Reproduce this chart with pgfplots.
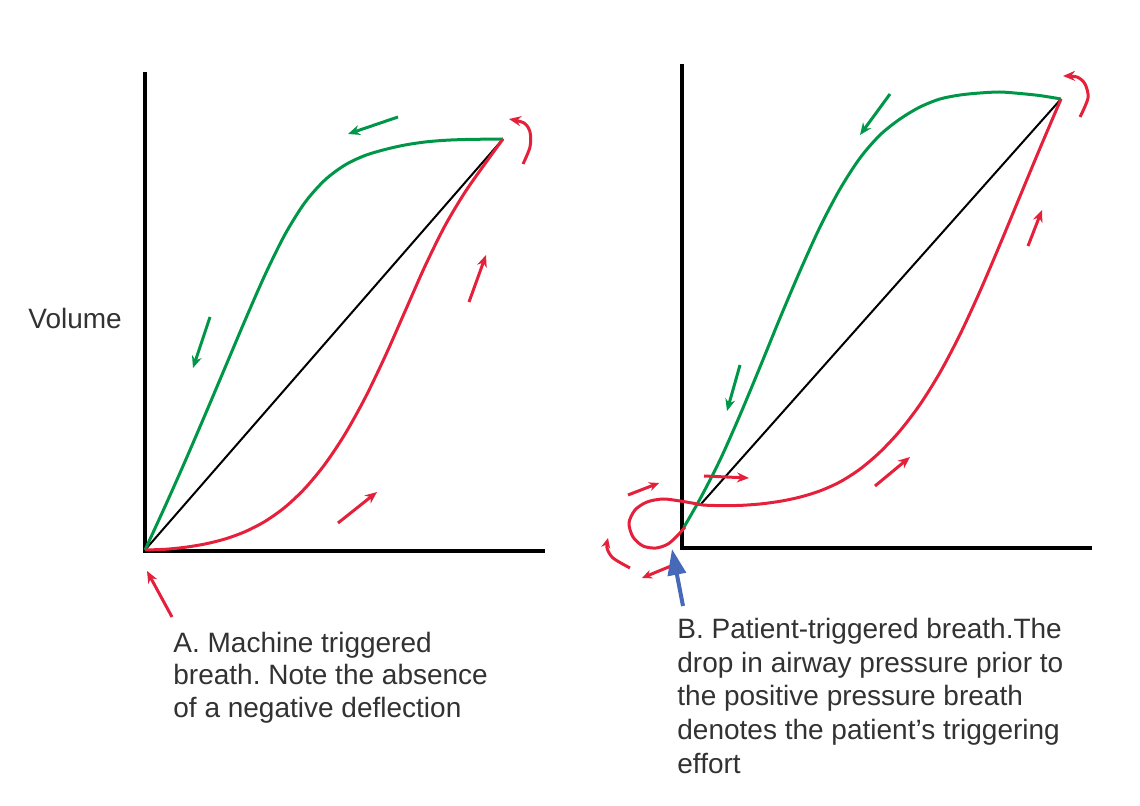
\documentclass[border=0pt]{standalone}
\usepackage{pgfplots}
\pgfplotsset{compat=1.18}
\usepackage{fontspec}
\setmainfont{Liberation Sans}
\usetikzlibrary{arrows.meta}
\definecolor{lgreen}{RGB}{0,150,72}
\definecolor{lred}{RGB}{228,32,58}
\definecolor{lblue}{RGB}{70,105,185}
\definecolor{txt}{RGB}{50,50,50}
\frenchspacing
\begin{document}
\begin{tikzpicture}
\begin{axis}[width=570pt,height=403pt,scale only axis,
  xmin=0,xmax=1140,ymin=0,ymax=806,y dir=reverse,
  hide axis,clip=false]
\path (axis cs:0,0) rectangle (axis cs:1140,806);
% ---------- axes (panel A, panel B)
\addplot[black,line width=2.3pt,line join=miter] coordinates {(145,72)(145,551)(545,551)};
\addplot[black,line width=2.3pt,line join=miter] coordinates {(682,64)(682,548)(1092,548)};
% ---------- panel A
\addplot[black,line width=1pt] coordinates {(145,550)(503,139)};
\addplot[lgreen,line width=1.5pt,smooth] coordinates {
(145,550)(165,506.5)(185,461.5)(205,415)(225,367.7)(245,320.4)(265,274.9)(285,234.4)(305,202.4)(325,179.9)(345,165)(365,155.5)(385,149.5)(405,145)(425,142)(445,140.3)(465,139.5)(485,139.2)(503,139)};
\addplot[lred,line width=1.5pt,smooth] coordinates {
(145,550)(165,549.3)(185,547.3)(205,544)(225,539)(245,531.7)(265,521.4)(285,507.2)(305,488.3)(325,464.1)(345,434.1)(365,398.1)(385,356.6)(405,311.4)(425,266.2)(445,225.7)(465,192.2)(485,163.7)(503,139)};
% arrows panel A
\addplot[lgreen,line width=1.5pt,-{Stealth[length=6pt,width=5pt]}] coordinates {(398,117)(348,134)};
\addplot[lgreen,line width=1.5pt,-{Stealth[length=6pt,width=5pt]}] coordinates {(210,317)(193,368)};
\addplot[lred,line width=1.5pt,-{Stealth[length=6pt,width=5pt]}] coordinates {(469,302)(486,255)};
\addplot[lred,line width=1.5pt,-{Stealth[length=6pt,width=5pt]}] coordinates {(338,523)(377,492)};
\addplot[lred,line width=1.5pt,smooth,-{Stealth[length=6pt,width=5pt]}] coordinates {(523,164)(530,147)(530,132)(524,123)(509,119)};
\addplot[lred,line width=1.5pt,-{Stealth[length=6pt,width=5pt]}] coordinates {(172,617)(147,571)};
% ---------- panel B
\addplot[black,line width=1pt] coordinates {(701,504)(1061,99)};
\addplot[lgreen,line width=1.5pt,smooth] coordinates {
(684,527)(700,499)(720,460)(740,415)(760,367)(780,318)(800,271)(820,227)(840,189)(860,158)(880,135)(900,119)(920,107)(940,99)(960,95)(980,93)(1000,92)(1020,93.5)(1040,95.6)(1061,99)};
\addplot[lred,line width=1.5pt,smooth] coordinates {
(685,527)(678,535)(668,544)(656,548)(643,546)(633,537)(629,523)(635,510)(647,502)(663,499)(680,501)(692,503)(703,505)(720,505.6)(740,505.4)(760,504)(780,501.3)(800,497.1)(820,490.9)(840,481.9)(860,469.1)(880,452.1)(900,430.8)(920,404.5)(940,372.5)(960,334.5)(980,291.2)(1000,244.4)(1020,196.2)(1040,148.2)(1061,99)};
% arrows panel B
\addplot[lgreen,line width=1.5pt,-{Stealth[length=6pt,width=5pt]}] coordinates {(890,94)(860,135)};
\addplot[lgreen,line width=1.5pt,-{Stealth[length=6pt,width=5pt]}] coordinates {(740,365)(727,411)};
\addplot[lred,line width=1.5pt,-{Stealth[length=6pt,width=5pt]}] coordinates {(1028,246)(1042,210)};
\addplot[lred,line width=1.5pt,-{Stealth[length=6pt,width=5pt]}] coordinates {(875,486)(910,457)};
\addplot[lred,line width=1.5pt,-{Stealth[length=6pt,width=5pt]}] coordinates {(704,476)(749,478)};
\addplot[lred,line width=1.5pt,smooth,-{Stealth[length=6pt,width=5pt]}] coordinates {(1080,117)(1088,98)(1085,84)(1077,77)(1063,76)};
\addplot[lred,line width=1.5pt,-{Stealth[length=5pt,width=4.5pt]}] coordinates {(628,495)(659,483)};
\addplot[lred,line width=1.5pt,smooth,-{Stealth[length=5pt,width=4.5pt]}] coordinates {(630,568)(613,558)(607,548)(608,538)};
\addplot[lred,line width=1.5pt,-{Stealth[length=5pt,width=4.5pt]}] coordinates {(671,566)(642,578)};
\addplot[lblue,line width=2pt,-{Triangle[length=13pt,width=9pt]}] coordinates {(683,606)(672,549)};
% ---------- texts
\node[anchor=base west,text=txt,font=\fontsize{14}{16}\selectfont,inner sep=0pt] at (axis cs:28,329) {Volume};
\node[anchor=base west,text=txt,font=\fontsize{14}{16}\selectfont,inner sep=0pt] at (axis cs:173,652) {A. Machine triggered};
\node[anchor=base west,text=txt,font=\fontsize{14}{16}\selectfont,inner sep=0pt] at (axis cs:173,684.5) {breath. Note the absence};
\node[anchor=base west,text=txt,font=\fontsize{14}{16}\selectfont,inner sep=0pt] at (axis cs:173,717) {of a negative deflection};
\node[anchor=base west,text=txt,font=\fontsize{14}{16}\selectfont,inner sep=0pt] at (axis cs:677,638) {B. Patient-triggered breath.The};
\node[anchor=base west,text=txt,font=\fontsize{14}{16}\selectfont,inner sep=0pt] at (axis cs:677,672) {drop in airway pressure prior to};
\node[anchor=base west,text=txt,font=\fontsize{14}{16}\selectfont,inner sep=0pt] at (axis cs:677,705.5) {the positive pressure breath};
\node[anchor=base west,text=txt,font=\fontsize{14}{16}\selectfont,inner sep=0pt] at (axis cs:677,739) {denotes the patient’s triggering};
\node[anchor=base west,text=txt,font=\fontsize{14}{16}\selectfont,inner sep=0pt] at (axis cs:677,773) {effort};
\end{axis}
\end{tikzpicture}
\end{document}
